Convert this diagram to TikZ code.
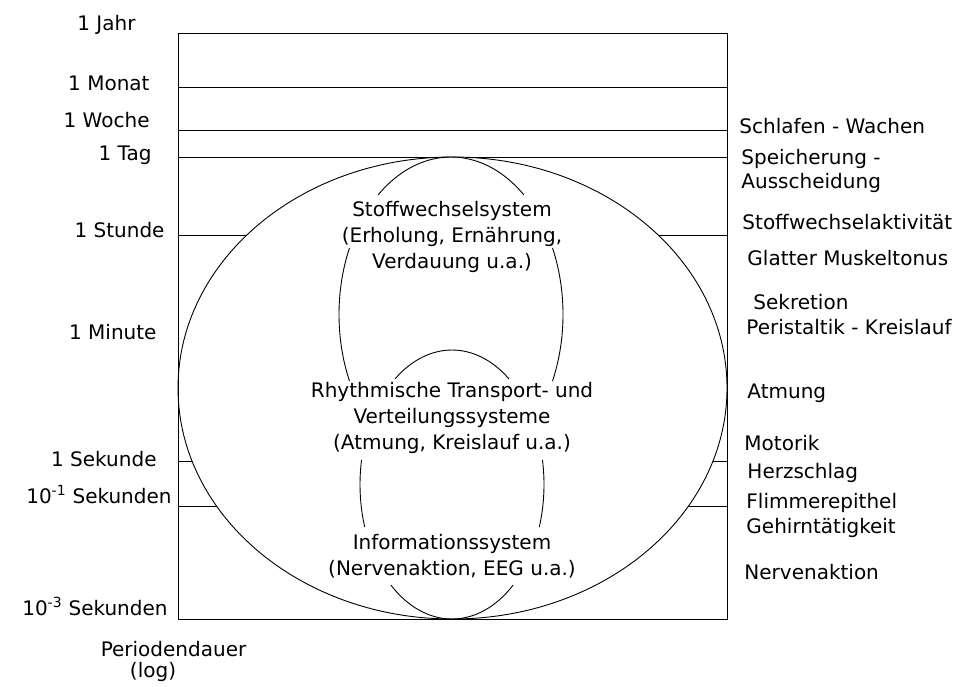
\documentclass[tikz,border=0pt]{standalone}
\usepackage{fontspec}
\setmainfont{DejaVu Sans}

\begin{document}
\begin{tikzpicture}[
  x=1pt, y=-1pt,
  line width=0.9pt,
  period/.style={anchor=east, inner sep=0pt, font=\fontsize{20}{24}\selectfont, text height=15pt, text depth=3pt},
  rhythm/.style={anchor=west, inner sep=0pt, font=\fontsize{20}{24}\selectfont, text height=15pt, text depth=3pt},
  sysbox/.style={align=center, inner sep=0pt, font=\fontsize{20}{26}\selectfont}
]
\useasboundingbox (0,0) rectangle (960,686);

\coordinate (outerc) at (452.5,388);
\coordinate (stoffc) at (451,314.5);
\coordinate (infoc) at (452,484.5);

% time scale lines, hidden inside the ellipse
\foreach \yy in {87,130,157,235,461,506}
  \draw (178,\yy) -- (727,\yy);
\filldraw[fill=white] (outerc) ellipse [x radius=274.5, y radius=231];
\draw (178,33) rectangle (727,619);

% Stoffwechselsystem
\draw ([shift={(-49.4:112 and 157.5)}]stoffc) arc[start angle=-49.4, end angle=-130.6, x radius=112, y radius=157.5];
\draw ([shift={(25:112 and 157.5)}]stoffc) arc[start angle=25, end angle=-25, x radius=112, y radius=157.5];
\draw ([shift={(155:112 and 157.5)}]stoffc) arc[start angle=155, end angle=205, x radius=112, y radius=157.5];

% Informationssystem
\draw ([shift={(-51.7:92 and 134.5)}]infoc) arc[start angle=-51.7, end angle=-128.3, x radius=92, y radius=134.5];
\draw ([shift={(18.4:92 and 134.5)}]infoc) arc[start angle=18.4, end angle=-10.5, x radius=92, y radius=134.5];
\draw ([shift={(161.6:92 and 134.5)}]infoc) arc[start angle=161.6, end angle=190.5, x radius=92, y radius=134.5];
\draw ([shift={(48.4:92 and 134.5)}]infoc) arc[start angle=48.4, end angle=131.6, x radius=92, y radius=134.5];

\node[sysbox] (stoff) at (452,237) {Stoffwechselsystem\\(Erholung, Ernährung,\\Verdauung u.a.)};
\node[sysbox] (rhyth) at (452,418) {Rhythmische Transport- und\\Verteilungssysteme\\(Atmung, Kreislauf u.a.)};
\node[sysbox] (info) at (452,556.5) {Informationssystem\\(Nervenaktion, EEG u.a.)};

% period labels
\node[period] (jahr) at (136,24) {1 Jahr};
\node[period] (monat) at (150,84) {1 Monat};
\node[period] (woche) at (150,121) {1 Woche};
\node[period] (tag) at (152,154) {1 Tag};
\node[period] (stunde) at (165,231) {1 Stunde};
\node[period] (minute) at (157,333) {1 Minute};
\node[period] (sekunde) at (157,460) {1 Sekunde};
\node[period] (zehntel) at (172,497) {10\textsuperscript{-1} Sekunden};
\node[period] (milli) at (168,609) {10\textsuperscript{-3} Sekunden};
\node[period, anchor=center] (dauer) at (173.5,650) {Periodendauer};
\node[period, anchor=center] (logscale) at (153,671) {(log)};

% rhythm labels
\node[rhythm] (schlaf) at (739,127) {Schlafen - Wachen};
\node[rhythm] (speich) at (741,158) {Speicherung -};
\node[rhythm] (aussch) at (741,182) {Ausscheidung};
\node[rhythm] (aktiv) at (742,223) {Stoffwechselaktivität};
\node[rhythm] (tonus) at (747,259) {Glatter Muskeltonus};
\node[rhythm] (sekret) at (753,303) {Sekretion};
\node[rhythm] (peri) at (746,328) {Peristaltik - Kreislauf};
\node[rhythm] (atmung) at (747,392) {Atmung};
\node[rhythm] (motorik) at (744,444) {Motorik};
\node[rhythm] (herz) at (747,472) {Herzschlag};
\node[rhythm] (flimmer) at (746,502) {Flimmerepithel};
\node[rhythm] (gehirn) at (746,527) {Gehirntätigkeit};
\node[rhythm] (nerv) at (744,573) {Nervenaktion};

\end{tikzpicture}
\end{document}
